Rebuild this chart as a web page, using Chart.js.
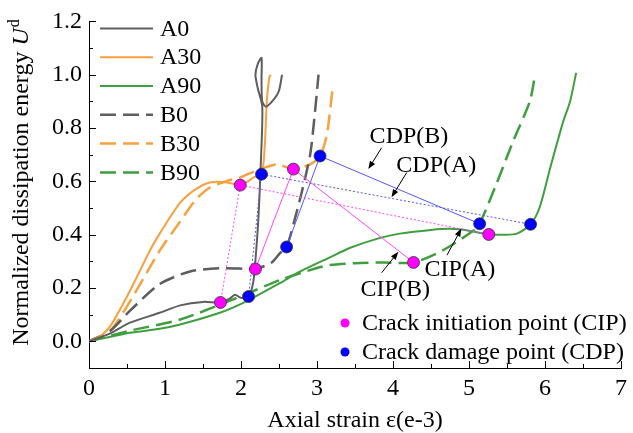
<!DOCTYPE html>
<html>
<head>
<meta charset="utf-8">
<script src="https://cdn.jsdelivr.net/npm/chart.js@4/dist/chart.umd.min.js"></script>
<style>
  body { margin: 0; background: #fff; }
  #wrap { width: 633px; height: 433px; }
</style>
</head>
<body>
<div id="wrap"><canvas id="c"></canvas></div>
<script>
const FONT = '"Liberation Serif", "Times New Roman", serif';

// [axial strain (e-3), normalized dissipation energy]
const A0 = [[0,0],[0.28,0.03],[0.54,0.07],[0.93,0.107],[1.2,0.135],[1.5,0.148],[1.73,0.146],[1.85,0.16],[1.92,0.175],[2.0,0.163],[2.1,0.168],[2.16,0.22],[2.19,0.305],[2.23,0.466],[2.26,0.664],[2.28,0.88],[2.22,0.95],[2.19,1.0],[2.22,1.04],[2.27,1.063],[2.27,0.98],[2.28,0.9],[2.33,0.88],[2.44,0.91],[2.5,0.94],[2.54,1.0]];
const A30 = [[0,0],[0.15,0.02],[0.28,0.057],[0.54,0.19],[0.8,0.34],[0.93,0.404],[1.2,0.52],[1.4,0.57],[1.59,0.596],[1.8,0.597],[1.99,0.586],[2.1,0.602],[2.16,0.614],[2.27,0.627],[2.31,0.72],[2.34,0.9],[2.37,0.986],[2.39,1.0]];
const A90 = [[0,0],[0.54,0.032],[0.93,0.047],[1.2,0.063],[1.72,0.107],[2.07,0.15],[2.51,0.218],[2.78,0.262],[3.17,0.315],[3.43,0.35],[3.83,0.388],[4.09,0.404],[4.5,0.418],[4.75,0.422],[5.0,0.415],[5.26,0.401],[5.45,0.4],[5.63,0.404],[5.81,0.439],[5.93,0.503],[6.07,0.652],[6.24,0.825],[6.33,0.9],[6.41,1.007]];
const B0 = [[0,0],[0.28,0.04],[0.54,0.115],[0.93,0.215],[1.33,0.262],[1.72,0.274],[2.07,0.272],[2.19,0.271],[2.4,0.295],[2.51,0.33],[2.6,0.354],[2.7,0.45],[2.8,0.56],[2.91,0.7],[2.97,0.85],[3.02,1.0]];
const B30 = [[0,0],[0.28,0.04],[0.54,0.15],[0.93,0.34],[1.2,0.45],[1.4,0.53],[1.59,0.577],[1.8,0.6],[1.99,0.615],[2.2,0.64],[2.47,0.664],[2.69,0.646],[2.91,0.664],[3.04,0.695],[3.13,0.776],[3.21,0.96]];
const B90 = [[0,0],[0.54,0.04],[1.2,0.082],[1.99,0.168],[2.51,0.23],[3.0,0.275],[3.17,0.286],[3.5,0.293],[3.87,0.296],[4.27,0.296],[4.66,0.342],[5.06,0.416],[5.14,0.441],[5.36,0.59],[5.58,0.75],[5.8,0.9],[5.87,1.0]];

// crack initiation / damage points, in order 0, 30, 90
const CIP_A = [[1.73,0.146],[1.99,0.586],[5.26,0.401]];
const CIP_B = [[2.19,0.271],[2.69,0.646],[4.27,0.296]];
const CDP_A = [[2.1,0.168],[2.27,0.627],[5.81,0.439]];
const CDP_B = [[2.6,0.354],[3.04,0.695],[5.14,0.441]];

const X_TICKS = [0,1,2,3,4,5,6,7];
const Y_TICKS = [0,0.2,0.4,0.6,0.8,1.0,1.2];

// callouts: label position, arrow start, arrow tip (data units)
const NOTES = [
  { text: 'CDP(B)', at: [4.21,0.773], from: [3.85,0.726], to: [3.675,0.646] },
  { text: 'CDP(A)', at: [4.57,0.662], from: [4.18,0.633], to: [3.98,0.54] },
  { text: 'CIP(A)', at: [4.88,0.273], from: [4.71,0.323], to: [4.9,0.423] },
  { text: 'CIP(B)', at: [4.03,0.199], from: [3.85,0.257], to: [4.07,0.336] },
];

const GRAY = '#5e5e5e', ORANGE = '#f9a03f', GREEN = '#3f9f3f';
const DASH = [16, 7];

const xy = arr => arr.map(([x, y]) => ({ x, y }));

function curve(label, data, color, dashed) {
  return {
    label, data: xy(data), borderColor: color, backgroundColor: color,
    borderWidth: dashed ? 2.5 : 2, borderDash: dashed ? DASH : [],
    showLine: true, pointRadius: 0, tension: 0.25, order: 10,
  };
}

function markers(data, lineColor, fill, dotted) {
  return {
    label: '', data: xy(data), showLine: true,
    borderColor: lineColor, borderWidth: 1, borderDash: dotted ? [2, 2] : [],
    pointRadius: 6, pointBackgroundColor: fill, pointBorderColor: '#333',
    pointBorderWidth: 0.8, tension: 0, order: 0,
  };
}

function arrow(ctx, x1, y1, x2, y2) {
  const a = Math.atan2(y2 - y1, x2 - x1);
  ctx.beginPath();
  ctx.moveTo(x1, y1);
  ctx.lineTo(x2 - 6 * Math.cos(a), y2 - 6 * Math.sin(a));
  ctx.stroke();
  ctx.beginPath();
  ctx.moveTo(x2, y2);
  ctx.lineTo(x2 - 8 * Math.cos(a) + 3 * Math.sin(a), y2 - 8 * Math.sin(a) - 3 * Math.cos(a));
  ctx.lineTo(x2 - 8 * Math.cos(a) - 3 * Math.sin(a), y2 - 8 * Math.sin(a) + 3 * Math.cos(a));
  ctx.closePath();
  ctx.fill();
}

const decor = {
  id: 'decor',
  afterDraw(chart) {
    const { ctx, chartArea: ca, scales: { x, y } } = chart;
    ctx.save();
    ctx.strokeStyle = '#000';
    ctx.fillStyle = '#000';
    ctx.lineWidth = 1;

    // inward ticks
    ctx.beginPath();
    for (let v = 0; v <= 7; v += 0.5) {
      const px = Math.round(x.getPixelForValue(v)) + 0.5;
      ctx.moveTo(px, ca.bottom);
      ctx.lineTo(px, ca.bottom - (v % 1 === 0 ? 7 : 4));
    }
    for (let i = 0; i <= 12; i++) {
      const py = Math.round(y.getPixelForValue(i / 10)) + 0.5;
      ctx.moveTo(ca.left, py);
      ctx.lineTo(ca.left + (i % 2 === 0 ? 7 : 4), py);
    }
    ctx.stroke();

    // axis titles
    ctx.font = '24px ' + FONT;
    ctx.textAlign = 'center';
    ctx.textBaseline = 'alphabetic';
    ctx.fillText('Axial strain ε(e-3)', (ca.left + ca.right) / 2, 427);

    ctx.save();
    ctx.translate(28, 183);
    ctx.rotate(-Math.PI / 2);
    const main = 'Normalized dissipation energy ';
    ctx.font = '24px ' + FONT;
    const w1 = ctx.measureText(main).width;
    ctx.font = 'italic 24px ' + FONT;
    const w2 = ctx.measureText('U').width;
    ctx.font = '16px ' + FONT;
    const w3 = ctx.measureText('d').width;
    let sx = -(w1 + w2 + w3) / 2;
    ctx.textAlign = 'left';
    ctx.font = '24px ' + FONT;
    ctx.fillText(main, sx, 0);
    ctx.font = 'italic 24px ' + FONT;
    ctx.fillText('U', sx + w1, 0);
    ctx.font = '16px ' + FONT;
    ctx.fillText('d', sx + w1 + w2 + 1, -9);
    ctx.restore();

    // series legend
    ctx.font = '24px ' + FONT;
    ctx.textAlign = 'left';
    ctx.textBaseline = 'middle';
    chart.data.datasets.slice(0, 6).forEach((ds, i) => {
      const ly = ca.top + 7 + i * 28.8;
      ctx.save();
      ctx.strokeStyle = ds.borderColor;
      ctx.lineWidth = ds.borderWidth;
      ctx.setLineDash(ds.borderDash);
      ctx.beginPath();
      ctx.moveTo(ca.left + 11, ly);
      ctx.lineTo(ca.left + 64, ly);
      ctx.stroke();
      ctx.restore();
      ctx.fillText(ds.label, ca.left + 71, ly + 1);
    });

    // marker legend
    [['#ff00ff', 'Crack initiation point (CIP)'], ['#0000ff', 'Crack damage point (CDP)']].forEach(([c, t], i) => {
      const ly = 323 + i * 29;
      ctx.beginPath();
      ctx.arc(345, ly, 4.5, 0, Math.PI * 2);
      ctx.fillStyle = c;
      ctx.fill();
      ctx.fillStyle = '#000';
      ctx.fillText(t, 362, ly + 1);
    });

    // callouts
    ctx.textAlign = 'center';
    NOTES.forEach(n => {
      ctx.fillText(n.text, x.getPixelForValue(n.at[0]), y.getPixelForValue(n.at[1]) + 1);
      arrow(ctx, x.getPixelForValue(n.from[0]), y.getPixelForValue(n.from[1]),
        x.getPixelForValue(n.to[0]), y.getPixelForValue(n.to[1]));
    });
    ctx.restore();
  },
};

new Chart(document.getElementById('c'), {
  type: 'scatter',
  data: {
    datasets: [
      curve('A0', A0, GRAY, false),
      curve('A30', A30, ORANGE, false),
      curve('A90', A90, GREEN, false),
      curve('B0', B0, GRAY, true),
      curve('B30', B30, ORANGE, true),
      curve('B90', B90, GREEN, true),
      markers(CIP_A, '#ff44ff', '#ff00ff', true),
      markers(CIP_B, '#ff44ff', '#ff00ff', false),
      markers(CDP_A, '#5555ff', '#0000ff', true),
      markers(CDP_B, '#5555ff', '#0000ff', false),
    ],
  },
  options: {
    responsive: true,
    maintainAspectRatio: false,
    animation: false,
    layout: { padding: { top: 19, right: 12, left: 0, bottom: 0 } },
    plugins: { legend: { display: false }, tooltip: { enabled: false } },
    scales: {
      x: {
        type: 'linear', min: 0, max: 7,
        afterBuildTicks: s => { s.ticks = X_TICKS.map(v => ({ value: v })); },
        afterFit: s => { s.height = 65; },
        grid: { display: false, drawTicks: false },
        border: { display: true, color: '#000', width: 1 },
        ticks: { color: '#000', font: { family: FONT, size: 24 }, padding: 6, maxRotation: 0 },
      },
      y: {
        type: 'linear', min: -0.1, max: 1.2,
        afterBuildTicks: s => { s.ticks = Y_TICKS.map(v => ({ value: v })); },
        afterFit: s => { s.width = 89; },
        grid: { display: false, drawTicks: false },
        border: { display: true, color: '#000', width: 1 },
        ticks: { color: '#000', font: { family: FONT, size: 24 }, padding: 7, callback: v => v.toFixed(1) },
      },
    },
  },
  plugins: [decor],
});
</script>
</body>
</html>
